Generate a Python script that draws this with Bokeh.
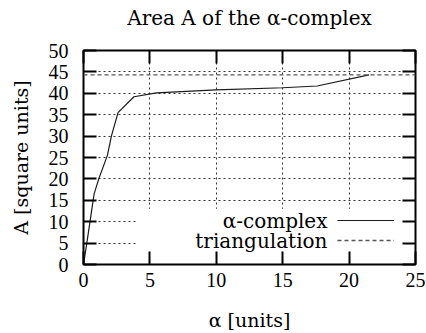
from bokeh.plotting import figure
from bokeh.models import Range1d, FixedTicker, LinearAxis, Legend, LegendItem, Label, BoxAnnotation
from bokeh.embed import file_html
from bokeh.resources import INLINE

# ---- data ----
alpha_vals = [0.0, 0.25, 0.8, 1.15, 1.8, 2.1, 2.6, 3.8, 5.5, 10.0, 15.0, 17.6, 21.5]
area_vals = [0.0, 5.0, 16.5, 20.0, 25.5, 30.0, 35.5, 39.2, 40.1, 40.8, 41.3, 41.7, 44.3]
triangulation_area = 44.3
x_ticks = [0, 5, 10, 15, 20, 25]
y_ticks = [0, 5, 10, 15, 20, 25, 30, 35, 40, 45, 50]
series_names = ["α-complex", "triangulation"]
title_text = "Area A of the α-complex"

TEXT_FONT = "DejaVu Serif"
TICK_FONT = "Liberation Serif"

p = figure(width=426, height=333,
           x_range=Range1d(x_ticks[0], x_ticks[-1]),
           y_range=Range1d(y_ticks[0], y_ticks[-1]),
           output_backend="svg", toolbar_location=None,
           min_border_left=83, min_border_right=11,
           min_border_top=50, min_border_bottom=67)

p.outline_line_color = "black"
p.outline_line_width = 2
p.background_fill_color = "white"
p.border_fill_color = "white"

def style_axis(ax, ticks, labels=True):
    ax.ticker = FixedTicker(ticks=ticks)
    ax.axis_line_color = None
    ax.minor_tick_line_color = None
    ax.major_tick_in = 13
    ax.major_tick_out = 0
    ax.major_tick_line_width = 2
    ax.major_tick_line_color = "black"
    ax.axis_label_text_font = TEXT_FONT
    ax.axis_label_text_font_size = "19px"
    ax.axis_label_text_font_style = "normal"
    ax.axis_label_text_color = "black"
    if labels:
        ax.major_label_text_font = TICK_FONT
        ax.major_label_text_font_size = "20px"
        ax.major_label_text_color = "black"
    else:
        ax.major_label_text_color = None
        ax.major_label_text_font_size = "1px"
        ax.major_label_standoff = 0

style_axis(p.xaxis[0], x_ticks)
style_axis(p.yaxis[0], y_ticks)
p.xaxis[0].axis_label = "α [units]"
p.yaxis[0].axis_label = "A [square units]"
p.xaxis[0].major_label_standoff = 8
p.xaxis[0].axis_label_standoff = 19
p.yaxis[0].major_label_standoff = 15
p.yaxis[0].axis_label_standoff = 14

# mirror ticks on top carry the chart title as their label
top_ax = LinearAxis()
style_axis(top_ax, x_ticks, labels=False)
top_ax.axis_label = title_text
top_ax.axis_label_text_font_size = "20px"
top_ax.axis_label_standoff = 21
p.add_layout(top_ax, "above")
right_ax = LinearAxis()
style_axis(right_ax, y_ticks, labels=False)
p.add_layout(right_ax, "right")

for g, t in ((p.xgrid[0], x_ticks[1:-1]), (p.ygrid[0], y_ticks[1:-1])):
    g.ticker = FixedTicker(ticks=t)
    g.grid_line_color = "#333333"
    g.grid_line_dash = "2 3"
    g.grid_line_width = 1

# blank key area (gnuplot key box is opaque)
p.add_layout(BoxAnnotation(left=3.95, right=23.9, bottom=2.6, top=13.0,
                           fill_color="white", fill_alpha=1.0,
                           line_color=None, level="glyph"))

r_alpha = p.line(alpha_vals, area_vals, line_color="#1a1a1a", line_width=1.2)
r_tri = p.line([x_ticks[0], x_ticks[-1]], [triangulation_area, triangulation_area],
               line_color="#555555", line_width=1.3, line_dash="4 3")

legend = Legend(items=[LegendItem(label=" ", renderers=[r_alpha]),
                       LegendItem(label=" ", renderers=[r_tri])],
                location=(254, 14), glyph_width=57, glyph_height=20,
                padding=0, spacing=0, margin=0, label_standoff=0, label_width=0,
                label_text_font_size="1px",
                border_line_color=None, background_fill_alpha=0.0)
p.add_layout(legend)

for name, yv in zip(series_names, (10.13, 5.49)):
    p.add_layout(Label(x=18.37, y=yv, text=name, text_align="right",
                       text_baseline="middle", text_font=TEXT_FONT,
                       text_font_size="20px", text_color="black"))

open("out.html", "w").write(file_html(p, INLINE))
